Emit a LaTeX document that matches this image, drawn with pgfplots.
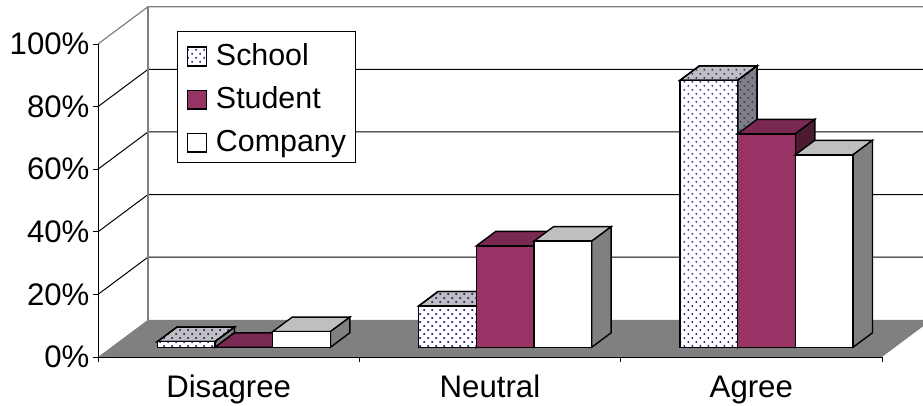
\documentclass[border=0pt]{standalone}
\usepackage{fontspec}
\setmainfont{Liberation Sans}
\usepackage{pgfplots}
\pgfplotsset{compat=1.18}
\usetikzlibrary{patterns.meta}

\definecolor{wine}{HTML}{993366}
\definecolor{winetop}{HTML}{7A2952}
\definecolor{wineside}{HTML}{4D1A33}
\definecolor{lighttop}{HTML}{BFBFBF}
\definecolor{floorgray}{HTML}{808080}
\definecolor{dotblue}{HTML}{2A2A90}

\tikzset{
  dots/.style={pattern={Dots[distance=5.66bp,angle=45,radius=1.15bp]},pattern color=dotblue},
  face/.style={draw=black,line width=1.4bp,line join=miter},
  schoolfront/.style={face,preaction={fill=white},dots},
  schooltop/.style={face,preaction={fill=lighttop},dots},
  schoolside/.style={face,preaction={fill=floorgray},dots},
  studentfront/.style={face,fill=wine},
  studenttop/.style={face,fill=winetop},
  studentside/.style={face,fill=wineside},
  companyfront/.style={face,fill=white},
  companytop/.style={face,fill=lighttop},
  companyside/.style={face,fill=floorgray},
}

% Depth of a bar and its footing on the floor, in axis units
\newcommand{\ddx}{0.0746}
\newcommand{\ddy}{4.63}
\newcommand{\ybase}{3.1}
\newcommand{\barw}{0.2207}

% \solidbar{left edge}{value}{series}: top, side and front faces of one bar
\newcommand{\solidbar}[3]{%
  \pgfmathsetmacro{\xa}{#1}%
  \pgfmathsetmacro{\xb}{#1+\barw}%
  \pgfmathsetmacro{\xc}{#1+\ddx}%
  \pgfmathsetmacro{\xd}{#1+\barw+\ddx}%
  \pgfmathsetmacro{\yt}{\ybase+#2}%
  \pgfmathsetmacro{\ytb}{\ybase+#2+\ddy}%
  \pgfmathsetmacro{\ybb}{\ybase+\ddy}%
  \addplot[#3top] coordinates {(\xa,\yt)(\xb,\yt)(\xd,\ytb)(\xc,\ytb)} --cycle;
  \addplot[#3side] coordinates {(\xb,\ybase)(\xd,\ybb)(\xd,\ytb)(\xb,\yt)} --cycle;
  \addplot[#3front] coordinates {(\xa,\ybase)(\xb,\ybase)(\xb,\yt)(\xa,\yt)} --cycle;
}

% \backgrid{level}: one gridline across the side wall and the back wall
\newcommand{\backgrid}[1]{%
  \pgfmathsetmacro{\yw}{#1+11.9}%
  \addplot[black,line width=1bp] coordinates {(0,#1)(0.1913,\yw)(3.157,\yw)};
}

\begin{document}
\begin{tikzpicture}
\begin{axis}[
  at={(98bp,49bp)},anchor=south west,
  scale only axis,width=825bp,height=357bp,
  xmin=0,xmax=3.157,ymin=0,ymax=114.06,
  clip=false,
  axis line style={draw=none},
  tick pos=left,tick align=outside,
  major tick length=5bp,minor tick length=5bp,
  xtick={0.5,1.5,2.5},
  xticklabels={Disagree,Neutral,Agree},
  minor xtick={0,1,2,3},
  major x tick style={draw=none},
  minor x tick style={black,line width=0.8bp},
  ytick={0,20,40,60,80,100},
  yticklabels={0\%,20\%,40\%,60\%,80\%,100\%},
  ytick style={black,line width=0.8bp},
  /pgf/number format/assume math mode=true,
  tick label style={font=\fontsize{31.3}{36}\selectfont},
  xticklabel style={yshift=-9bp,text height=23bp,text depth=6.5bp},
  yticklabel style={xshift=0bp},
  legend style={
    at={(0.0961,0.914)},anchor=north west,
    draw=black,line width=0.8bp,fill=white,
    font=\fontsize{30.5}{36}\selectfont,
    inner xsep=9bp,inner ysep=1bp,
    row sep=0bp,
    nodes={text height=33.3bp,text depth=9.7bp,inner sep=0pt,anchor=base west},
  },
  legend cell align=left,
  legend image code/.code={%
    \draw[#1,line width=1.2bp] (-0.3bp,-0.7bp) rectangle (18.7bp,18.2bp);
    \path (0bp,0bp) (27.7bp,0bp);},
]
  % Legend swatches
  \addlegendimage{schoolfront}\addlegendentry{School}
  \addlegendimage{studentfront}\addlegendentry{Student}
  \addlegendimage{companyfront}\addlegendentry{Company}

  % Back wall and side wall
  \backgrid{20}\backgrid{40}\backgrid{60}\backgrid{80}
  \addplot[floorgray,line width=1.2bp] coordinates {(0,100)(0.1913,111.9)(3.157,111.9)};
  \addplot[floorgray,line width=1.2bp] coordinates {(0.1913,111.9)(0.1913,11.9)};

  % Floor, cut off at the right edge
  \addplot[fill=floorgray,draw=none] coordinates {(0,0)(3,0)(3.157,9.8)(3.157,11.9)(0.1913,11.9)} --cycle;

  % Axis lines
  \addplot[black,line width=0.9bp] coordinates {(0,0)(0,100)};
  \addplot[black,line width=0.9bp] coordinates {(0,0)(3,0)};

  % Disagree
  \solidbar{0.227}{1.8}{school}
  \solidbar{0.4477}{0}{student}
  \solidbar{0.6684}{5}{company}
  % Neutral
  \solidbar{1.227}{13.2}{school}
  \solidbar{1.4477}{32.4}{student}
  \solidbar{1.6684}{33.9}{company}
  % Agree
  \solidbar{2.227}{85.3}{school}
  \solidbar{2.4477}{68.2}{student}
  \solidbar{2.6684}{61.5}{company}
\end{axis}
\pgfresetboundingbox
\path[use as bounding box] (0,0) rectangle (923bp,406bp);
\end{tikzpicture}
\end{document}
